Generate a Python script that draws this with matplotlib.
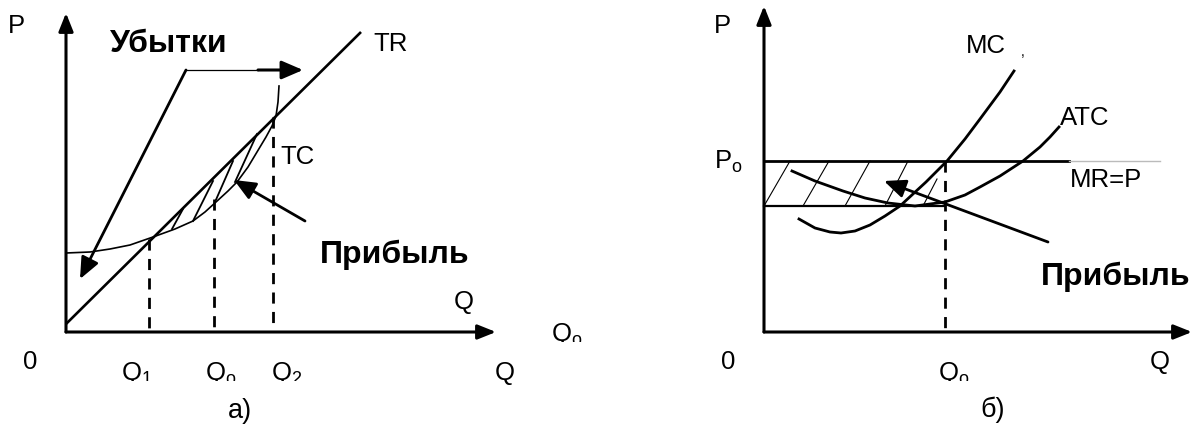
import matplotlib
matplotlib.use("Agg")
import matplotlib.pyplot as plt
from matplotlib.transforms import Bbox, TransformedBbox

# ---------------- data (diagram coordinates, y grows downward) ----------------
# Panel a)
tr_x = [66, 361]
tr_y = [325, 33]
tc_x = [66, 90, 110, 130, 153, 175, 193, 205, 216, 228, 237, 248, 257, 266, 272, 276, 278, 279]
tc_y = [254, 253, 250, 246, 238, 230, 222, 213, 203, 192, 183, 168, 153, 138, 127, 117, 103, 87]
q_a = [149, 214, 273]             # Q1, Q0, Q2
q_a_top = [240, 200, 118]
hatch_a = [((172, 230), (183, 210)), ((193, 222), (213, 182)),
           ((215, 203), (233, 162)), ((235, 183), (257, 135))]

# Panel б)
mc_x = [799, 815, 830, 841, 855, 870, 885, 900, 926, 947, 965, 980, 1000, 1014]
mc_y = [220, 229, 233, 234, 232, 226, 217, 207, 183, 162, 140, 120, 93, 72]
atc_x = [792, 815, 843, 865, 888, 915, 945, 965, 980, 1000, 1023, 1040, 1050, 1059]
atc_y = [172, 182, 192, 199, 204, 207, 203, 196, 188, 177, 162, 148, 138, 128]
p0_y = 162
atcmin_y = 207
q0_b = 945
hatch_b = [((764, 207), (790, 162)), ((803, 207), (829, 162)), ((845, 207), (870, 162)),
           ((885, 207), (908, 162)), ((923, 207), (937, 180))]

fig = plt.figure(figsize=(11.92, 4.27), dpi=100)
ax = fig.add_axes([0, 0, 1, 1])
ax.set_xlim(0, 1192)
ax.set_ylim(427, 0)
ax.axis("off")

FONT = "Liberation Sans"
K = "black"
FS = 18.5
FB = 23


def arrow(tail, tip, lw=2.0, hl=0.55, hw=0.22, ms=20):
    ax.annotate("", xy=tip, xytext=tail,
                arrowprops=dict(arrowstyle=f"-|>,head_length={hl},head_width={hw}",
                                mutation_scale=ms, lw=lw, color=K,
                                shrinkA=0, shrinkB=0))


def txt(x, y, s, size=FS, bold=False, ha="left", clip_bottom=None):
    t = ax.text(x, y, s, fontsize=size, fontfamily=FONT,
                fontweight="bold" if bold else "normal", ha=ha, va="center", color=K)
    if clip_bottom is not None:
        bb = TransformedBbox(Bbox([[0, -10], [1192, clip_bottom]]), ax.transData)
        t.set_clip_box(bb)
        t.set_clip_on(True)
    return t


# ---------------- panel a) ----------------
arrow((66, 333), (66, 14), lw=2.2)
arrow((66, 333), (496, 333), lw=2.2)
ax.plot(tr_x, tr_y, color=K, lw=1.9, solid_capstyle="butt")
ax.plot(tc_x, tc_y, color=K, lw=1.2)
for qx, qt in zip(q_a, q_a_top):
    ax.plot([qx, qx], [qt, 333], color=K, lw=2.0, dashes=(4, 3))
for (x0, y0), (x1, y1) in hatch_a:
    ax.plot([x0, x1], [y0, y1], color=K, lw=1.3)

# Убытки arrows
ax.plot([186, 258], [71, 71], color=K, lw=0.9)
arrow((258, 71), (303, 71), lw=2.2, hl=0.65, hw=0.28)
arrow((186, 71), (80, 280), lw=2.0, hl=0.65, hw=0.28)
# Прибыль arrow
arrow((305, 222), (234, 181), lw=2.0, hl=0.65, hw=0.28)

txt(8, 26, "P")
txt(110, 44, "Убытки", size=FB, bold=True)
txt(373, 44, "TR")
txt(280, 157, "TC")
txt(320, 255, "Прибыль", size=FB, bold=True)
txt(454, 302, "Q")
txt(551, 335, r"Q$_\mathregular{o}$", clip_bottom=343)
txt(23, 362, "0")
txt(121, 374, r"Q$_\mathregular{1}$", clip_bottom=382)
txt(205, 374, r"Q$_\mathregular{o}$", clip_bottom=382)
txt(271, 374, r"Q$_\mathregular{2}$", clip_bottom=382)
txt(495, 373, "Q")
txt(228, 411, "а)", size=19.5)

# ---------------- panel б) ----------------
arrow((764, 333), (764, 7), lw=2.2)
arrow((764, 333), (1192, 333), lw=2.2)
ax.plot([764, 1069], [p0_y, p0_y], color=K, lw=2.0)
ax.plot([1069, 1160], [p0_y, p0_y], color="#bbbbbb", lw=1.0)
ax.plot([764, q0_b], [atcmin_y, atcmin_y], color=K, lw=1.6)
ax.plot([q0_b, q0_b], [p0_y, 333], color=K, lw=2.0, dashes=(4, 3))
for (x0, y0), (x1, y1) in hatch_b:
    ax.plot([x0, x1], [y0, y1], color=K, lw=0.8)
ax.plot(mc_x, mc_y, color=K, lw=2.0)
ax.plot(atc_x, atc_y, color=K, lw=2.0)
arrow((1048, 243), (884, 182), lw=2.0, hl=0.65, hw=0.28)

txt(714, 26, "P")
txt(966, 46, "MC")
txt(1021, 52, ",", size=10)
txt(1060, 118, "ATC")
txt(714, 162, r"P$_\mathregular{o}$")
txt(1070, 180, "MR=P")
txt(1041, 277, "Прибыль", size=FB, bold=True)
txt(721, 362, "0")
txt(938, 374, r"Q$_\mathregular{o}$", clip_bottom=382)
txt(1150, 362, "Q")
txt(980, 410, "б)", size=19.5)

fig.savefig("out.png", dpi=100)
